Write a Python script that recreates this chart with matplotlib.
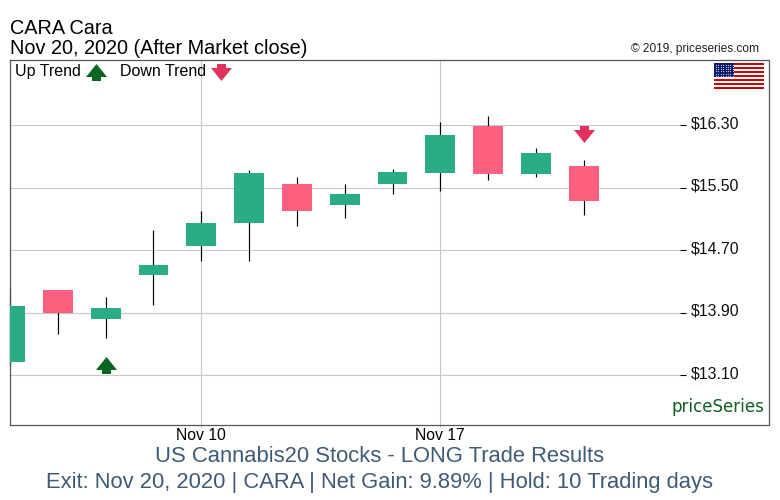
"""CARA daily candles with trend markers, priceSeries style."""

import matplotlib

matplotlib.use("Agg")
import matplotlib.pyplot as plt
import numpy as np
from matplotlib.patches import Rectangle
from matplotlib.path import Path
from matplotlib.transforms import ScaledTranslation

plt.rcParams["font.family"] = ["Liberation Sans", "DejaVu Sans"]

days = ["Nov 4", "Nov 5", "Nov 6", "Nov 9", "Nov 10", "Nov 11", "Nov 12",
        "Nov 13", "Nov 16", "Nov 17", "Nov 18", "Nov 19", "Nov 20"]
opens = [13.27, 14.19, 13.82, 14.38, 14.75, 15.04, 15.55, 15.28, 15.55, 15.68, 16.29, 15.67, 15.77]
closes = [13.98, 13.89, 13.96, 14.51, 15.04, 15.68, 15.20, 15.42, 15.70, 16.17, 15.67, 15.94, 15.33]
highs = [14.22, 14.19, 14.10, 14.96, 15.20, 15.73, 15.64, 15.55, 15.74, 16.34, 16.42, 16.01, 15.85]
lows = [13.21, 13.62, 13.57, 14.00, 14.56, 14.56, 15.01, 15.11, 15.42, 15.46, 15.60, 15.64, 15.15]

price_ticks = [13.10, 13.90, 14.70, 15.50, 16.30]
date_ticks = ["Nov 10", "Nov 17"]
up_signal_day, up_signal_price = "Nov 6", 13.23
down_signal_day, down_signal_price = "Nov 20", 16.19

GREEN = "#2AAD87"
RED = "#FF6080"
ARROW_UP = "#0B6623"
ARROW_DOWN = "#E0315F"
GRID = "#C8C8C8"
FOOT = "#3F5A75"
W, H = 780, 500

# arrow outlines, in pixels around the centre
UP_ARROW = Path([(0, 8.5), (10.5, -4.5), (4.5, -4.5), (4.5, -8.5), (-4.5, -8.5),
                 (-4.5, -4.5), (-10.5, -4.5), (0, 8.5)], closed=True)
DOWN_ARROW = Path([(0, -8.5), (10.5, 4.5), (4.5, 4.5), (4.5, 8.5), (-4.5, 8.5),
                   (-4.5, 4.5), (-10.5, 4.5), (0, -8.5)], closed=True)
ARROW_SIZE = 21 * 0.72


def fig_x(px):
    return px / W


def fig_y(px):
    return 1 - px / H


fig = plt.figure(figsize=(W / 100, H / 100), dpi=100)
ax = fig.add_axes([fig_x(10), fig_y(425), (768.5 - 10) / W, (425 - 60) / H])
ax.set_xlim(-0.002, 15.866)
ax.set_ylim(12.46, 17.132)

x = np.arange(len(days))
colors = [GREEN if c >= o else RED for o, c in zip(opens, closes)]

# grid stops short of the price labels
GRID_END = (680 - 10) / (768.5 - 10)
DASH_END = (686 - 10) / (768.5 - 10)
ytrans = ax.get_yaxis_transform()
ax.hlines(price_ticks, 0, GRID_END, transform=ytrans, color=GRID, lw=0.8, zorder=1)
ax.hlines(price_ticks, GRID_END, DASH_END, transform=ytrans, color="black", lw=0.8, zorder=1)
date_pos = [days.index(d) for d in date_ticks]
ax.vlines(date_pos, 0, 1, transform=ax.get_xaxis_transform(), color=GRID, lw=0.8, zorder=1)

ax.vlines(x, lows, highs, color="black", lw=0.85, zorder=2, clip_on=False)
ax.bar(x, np.abs(np.subtract(closes, opens)), bottom=np.minimum(opens, closes),
       width=0.62, color=colors, lw=0, zorder=3)

ax.plot(days.index(up_signal_day), up_signal_price, marker=UP_ARROW, ms=ARROW_SIZE,
        color=ARROW_UP, mew=0, zorder=4)
ax.plot(days.index(down_signal_day), down_signal_price, marker=DOWN_ARROW, ms=ARROW_SIZE,
        color=ARROW_DOWN, mew=0, zorder=4)

ax.set_xticks(date_pos, date_ticks)
ax.set_yticks(price_ticks, [f"${p:.2f}" for p in price_ticks])
ax.yaxis.tick_right()
ax.tick_params(axis="y", length=0, pad=-56.2, labelsize=11.4, labelcolor="#111111")
ax.tick_params(axis="x", length=1.2, width=0.8, color=GRID, pad=0.6, labelsize=11.3)
# labels sit a little above their grid lines
nudge = ScaledTranslation(0, 2 / 72, fig.dpi_scale_trans)
for lab in ax.get_yticklabels():
    lab.set_ha("left")
    lab.set_transform(lab.get_transform() + nudge)
for s in ax.spines.values():
    s.set_color("#555555")
    s.set_linewidth(0.9)

# header
fig.text(fig_x(10), fig_y(34), "CARA Cara", fontsize=14.3, color="black")
fig.text(fig_x(10), fig_y(54), "Nov 20, 2020 (After Market close)", fontsize=14.3, color="black")
fig.text(fig_x(759), fig_y(52), "© 2019, priceseries.com", fontsize=8.6, color="#222222", ha="right")

# trend legend inside the frame
fig.text(fig_x(15), fig_y(76), "Up Trend", fontsize=11.5, color="black")
fig.text(fig_x(120), fig_y(76), "Down Trend", fontsize=11.5, color="black")
ax.plot(fig_x(95.5), fig_y(71.5), marker=UP_ARROW, ms=ARROW_SIZE, color=ARROW_UP, mew=0,
        transform=fig.transFigure, zorder=4)
ax.plot(fig_x(220.5), fig_y(72), marker=DOWN_ARROW, ms=ARROW_SIZE, color=ARROW_DOWN, mew=0,
        transform=fig.transFigure, zorder=4)

# logo
fig.text(fig_x(764), fig_y(412), "priceSeries", fontsize=13.3, family="DejaVu Sans",
         stretch="condensed", color="#0F5F1E", ha="right")

# footer
fig.text(fig_x(380), fig_y(462), "US Cannabis20 Stocks - LONG Trade Results",
         fontsize=15.85, color=FOOT, ha="center")
fig.text(fig_x(380), fig_y(488), "Exit: Nov 20, 2020 | CARA | Net Gain: 9.89% | Hold: 10 Trading days",
         fontsize=15.85, color=FOOT, ha="center")

# flag
flag = fig.add_axes([fig_x(714), fig_y(89), 50 / W, 26 / H])
flag.set_xlim(0, 50)
flag.set_ylim(13, 0)
flag.axis("off")
for i in range(13):
    flag.add_patch(Rectangle((0, i), 50, 1, color="#CC0000" if i % 2 == 0 else "white", lw=0))
flag.add_patch(Rectangle((0, 0), 20, 7, color="#0A1A66", lw=0))
sx, sy = np.meshgrid(np.arange(2, 20, 2.4), np.arange(0.9, 7, 1.1))
flag.scatter(sx.ravel(), sy.ravel(), s=0.8, color="#B8BCE0", lw=0)

fig.savefig("out.png", dpi=100)
